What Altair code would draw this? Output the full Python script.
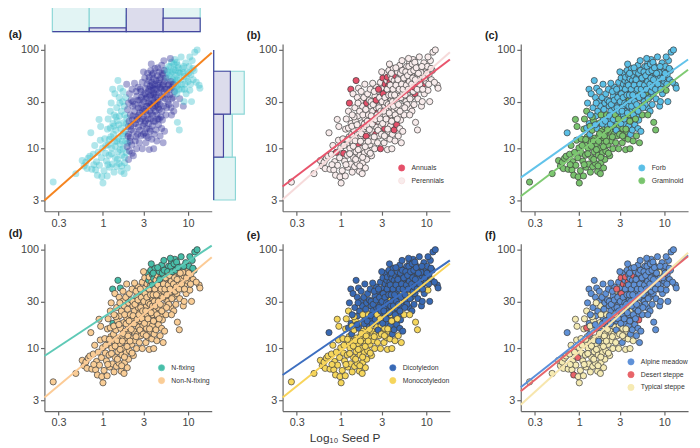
import altair as alt
import pandas as pd

# Seed P (x) and the trait on the y axis, one entry per species (same order in every list)
seed_p = [
    0.26, 0.48, 0.57, 0.60, 0.63, 0.65, 0.67, 0.70, 0.72, 0.74,
    0.77, 0.80, 0.82, 0.84, 0.86, 0.88, 0.90, 0.91, 0.93, 0.94,
    0.96, 0.97, 0.99, 1.00, 0.78, 1.03, 1.05, 1.07, 1.10, 1.12,
    1.13, 1.16, 1.18, 1.20, 1.22, 1.24, 1.27, 1.29, 1.31, 1.33,
    1.35, 1.37, 1.40, 1.42, 1.44, 1.47, 1.50, 1.52, 1.55, 1.57,
    1.60, 1.62, 1.64, 1.67, 1.70, 1.72, 1.75, 1.77, 1.80, 1.82,
    1.85, 1.88, 1.90, 1.93, 1.95, 1.98, 2.00, 1.15, 1.46, 1.66,
    1.50, 1.30, 1.25, 1.38, 1.45, 1.55, 1.60, 1.65, 1.70, 1.72,
    1.78, 1.80, 1.85, 1.90, 1.95, 2.00, 2.05, 2.10, 2.15, 2.20,
    1.42, 1.22, 1.58, 2.25, 1.35, 2.05, 2.10, 2.12, 2.18, 2.22,
    2.28, 2.30, 2.35, 2.40, 2.42, 2.48, 2.50, 2.55, 2.60, 2.62,
    2.68, 2.70, 2.75, 2.80, 2.85, 2.90, 2.95, 3.00, 3.05, 3.10,
    3.15, 3.20, 3.25, 3.30, 3.35, 3.40, 3.45, 3.50, 3.55, 3.60,
    3.65, 3.70, 3.75, 3.80, 3.85, 3.90, 3.95, 4.00, 4.10, 4.15,
    4.20, 4.30, 4.35, 4.40, 4.50, 4.60, 4.70, 4.80, 4.90, 5.00,
    5.10, 5.20, 5.30, 2.00, 2.25, 2.50, 2.60, 2.70, 2.80, 2.90,
    3.00, 3.10, 3.15, 3.20, 3.30, 3.35, 3.40, 3.45, 3.50, 3.55,
    3.60, 3.65, 3.70, 3.75, 3.80, 3.85, 3.90, 3.95, 4.00, 4.05,
    4.10, 4.15, 4.20, 4.30, 4.35, 4.40, 4.50, 4.55, 4.60, 4.70,
    4.75, 4.85, 4.90, 5.00, 5.10, 5.20, 5.30, 5.40, 5.50, 2.45,
    3.00, 2.35, 3.25, 4.45, 3.70, 5.50, 5.60, 5.70, 5.80, 5.90,
    6.00, 6.10, 6.20, 6.30, 6.40, 6.50, 6.60, 6.70, 6.80, 6.90,
    7.00, 7.10, 7.20, 7.30, 7.40, 7.50, 7.60, 7.90, 7.80, 8.00,
    8.20, 8.30, 8.50, 8.60, 8.80, 9.00, 9.20, 9.40, 9.50, 9.80,
    10.0, 10.3, 10.5, 10.8, 11.0, 11.2, 11.5, 12.0, 12.8, 13.5,
    13.8, 12.5, 6.20, 5.20, 8.70, 10.5, 9.00, 11.8, 6.80, 7.50,
    1.08, 1.14, 1.19, 1.26, 1.34, 1.39, 1.48, 1.54, 1.59, 1.69,
    1.73, 1.79, 1.87, 1.92, 1.97, 2.03, 2.08, 2.15, 2.20, 2.26,
    2.32, 2.38, 2.45, 2.52, 2.58, 2.65, 2.72, 2.78, 2.83, 2.88,
    2.93, 2.98, 3.03, 3.08, 3.13, 3.18, 3.23, 3.28, 3.38, 3.43,
    3.48, 3.53, 3.58, 3.63, 3.68, 3.78, 3.83, 3.88, 3.93, 4.02,
    4.08, 4.12, 4.25, 4.32, 4.42, 4.48, 4.58, 4.65, 4.72, 4.82,
    4.92, 4.98, 5.05, 5.15, 5.25, 5.35, 5.45, 5.65, 5.75, 5.85,
    5.95, 6.05, 6.15, 6.25, 6.35, 6.45, 6.55, 6.75, 6.85, 6.95,
    7.05, 7.15, 7.25, 7.35, 7.45, 7.65, 7.85, 8.10, 8.40, 8.90,
    9.10, 9.60, 10.2, 10.7, 11.4, 5.60, 6.40, 3.90, 4.40, 2.75,
]
trait = [
    4.6, 5.6, 7.6, 6.7, 7.3, 6.3, 8.0, 8.4, 14.5, 6.2,
    8.8, 10.8, 6.1, 7.4, 5.4, 9.2, 19.8, 6.8, 12.2, 16.8,
    8.1, 5.2, 10.2, 4.5, 6.9, 6.0, 12.6, 9.0, 7.5, 5.3,
    15.8, 11.0, 8.6, 6.5, 16.2, 13.2, 10.1, 7.0, 18.0, 14.0,
    5.8, 11.8, 8.1, 15.4, 6.6, 19.2, 9.3, 12.8, 7.1, 21.5,
    11.1, 16.0, 5.9, 8.6, 13.5, 10.0, 18.3, 5.6, 7.2, 15.0,
    12.0, 9.1, 20.5, 6.4, 11.4, 16.7, 7.8, 20.0, 12.0, 6.7,
    49, 40, 29, 36, 26, 33, 41, 24, 30, 38,
    27, 22, 33, 45, 25, 29, 36, 22, 31, 40,
    21, 24, 29, 27, 22, 9.5, 13, 17, 11, 19.5,
    8.5, 15, 24, 12, 18, 10, 21, 14, 26, 16.5,
    11.5, 23, 19, 13.5, 28, 10, 17, 21, 25, 14.5,
    19, 11.5, 16, 22, 27, 13, 18, 9.8, 24, 15,
    20, 29, 12.5, 17, 22, 26, 10, 14, 19, 24,
    15.5, 12, 28, 20, 17.5, 25, 13.5, 21, 16, 19.5,
    11.5, 27, 15, 14, 30, 34, 42, 31, 38, 47,
    35, 52, 41, 32, 45, 58, 38, 49, 53, 34,
    43, 62, 39, 47, 56, 31, 41, 51, 36, 45,
    65, 33, 49, 40, 55, 31, 46, 37, 60, 42,
    52, 34, 70, 44, 56, 38, 48, 32, 63, 38,
    60, 46, 27, 26, 72, 22, 40, 52, 30, 68,
    45, 35, 58, 26, 75, 42, 50, 33, 63, 38,
    80, 47, 28, 55, 36, 70, 44, 15.5, 59, 32,
    50, 85, 40, 65, 27, 54, 45, 74, 36, 60,
    48, 68, 39, 56, 30, 78, 50, 95, 100, 44,
    41, 47, 82, 78, 59, 85, 30, 62, 24, 18.5,
    10.8, 6.9, 12.4, 8.9, 16.9, 10.6, 7.8, 17.5, 9.8, 11.9,
    14.2, 8.2, 17.8, 10.5, 13.4, 19.0, 11.9, 15.6, 9.0, 21.5,
    17.8, 28, 13.2, 19.8, 31, 22, 15.4, 26, 33, 20,
    24, 14, 30, 18, 36, 24, 13.5, 33, 20, 29,
    40, 15.8, 28, 35, 23, 44, 27, 35, 19, 30,
    40, 27, 35, 22, 44, 30, 20, 50, 28, 40,
    24, 58, 33, 45, 62, 40, 52, 35, 60, 44,
    28, 55, 40, 68, 48, 32, 60, 45, 72, 52,
    38, 62, 42, 75, 50, 66, 40, 58, 45, 68,
    40, 52, 58, 45, 65, 26, 22, 58, 66, 40,
]

# one letter per species, in blocks of ten
life_code = ("PPPPPPPPPP PPPPPAPPPP PPPPPPPAPP PPPPPPPPPP PPPPPPPPPP APPPPPPPPP PPPPPPPPPP "
             "AAAPPPPPPP PPPPPAPPPP PPPPPPPPPP PPPPAPPAPP PAPPPAPPPP PPAPPPPPPP APPPPPPPPP "
             "APPPAPPPPP PPPPPPPPPP PAPPAPAPAP APPAPPAPPA PPPPAPPPPA PPPPPPPPPP PPPPPPPPPP "
             "PPPPPAPPPP PPPPAPPPPP PPPPPPAPPP PPPPPPPPPP PPPPPPPPPP "
             "PPPPPPPPPP PPPPAPPPPP PPPPAPPPPP PPPPAPPPPP PPPPPPPPPP PPPPPPPPPP "
             "PPPPPPPPPP PPPPPPPPPP PPAPPPPPPP PPPPPPPPPA")
form_code = ("GGGGGGGGFG GGGGGGGGGG GGGGGGGGGG GGGGFGGGFF GGGGGGGGGF GFGGGGGGGG GGFGGGGGGG "
             "FFFFFFFFFF FGFFFFFGFF GGFFFGGFGF GGFGFGFGFG GFFGFGGFFG FGGFFGFGFG FFGFGFGFFF "
             "FGFGFFGFFF GFFGFFFFFF FFFFFFFFFF FFFFFGFFFF FFFGFFFFFF FFFFFGFFFF FFFFFGFFFF "
             "FGFFFFFFFG FFFFFFFGFF FFGFFFFFFF FFGFFFFFFF FFFFFFFFFG "
             "GGGGGGGFGG GGFGGFGGGF FFGFFGFFFG FGFFFFGFFF FGFFFFFFGF FFFFFFGFFF "
             "FFFFFFFFFF FFFFFFFFFF FFFFFFFFFF FFFFFFGFFF")
nfix_code = ("nnnnnnnnnn nnnnnnnnnn nnnnnnnnnn nnnnnnnnNn nnnnnnnnnn nnnnnnnnnn nnnnnnnnnn "
             "NNnnnnNnnn nnnnnnnnnn nnnnnnnnnn nnnnnnnnnn nnnnnnnnnn nnnnnnnnnn nnnnnnnnnn "
             "nnnnnnnnnn nnnnnnnnnn nnnnnNnNnn nNnnNnnNnn NnnnnnNnNn nnNnNnnnNn nnnnNnnnnN "
             "nnNnNnnnNn NnnnnNnnnn nNnNnnnNnn nNnnnNnNNn nnNNnNnNnn "
             "nnnnnnnnnn nnnnnnnnnn nnnnnnnnnn nnnnnnnnnn nnnnnNnnnn nnnnnnnNnn "
             "nNnnNnnnNn nnnNnnNnNn nNnNnNnnnN nnnnNnnNNn")
coty_code = ("MMMMMMMMDM MMMMMMMMMM MMMMMMMMMM MMMMDMMMDD MMMMMMMMMD MDMMMMMMMM MMDMMMMMMM "
             "DDDDDDDDDD DMDDDDDMDD MMDDDMMDMD MMDMDMDMDM MDDMDMMDDM DMMDDMDMDM DDMDMDMDDD "
             "DMDMDDMDDD MDDMDDDDDD DDDDDDDDDD DDDDDMDDDD DDDMDDDDDD DDDDDMDDDD DDDDDMDDDD "
             "DMDDDDDDDM DDDDDDDMDD DDMDDDDDDD DDMDDDDDDD DDDDDDDDDM "
             "MMMMMMMDMM MMDMMDMMMD DDMDDMDDDM DMDDDDMDDD DMDDDDDDMD DDDDDDMDDD "
             "DDDDDDDDDD DDDDDDDDDD DDDDDDDDDD DDDDDDMDDD")
habitat_code = ("TTTTTTTTMT TTTTDTTTTT DTTTTTTTTT TTTTDTTTMM TTTTTTTTTM TMTTTTTTTM TTMTTTTTTT "
                "MMMMMMMMMM TTMMMMMTMM TTTMMTTMTD TTMTMTTTMT TMMTMTTMMT MMTMMTMTMT MMTMMMTMMT "
                "MTMMMMMMMD MMMTMMMMTM MDMMDMMMDM DMTDMMMMMD MMMTDMMMMM MMMMMMMMMM MMMMMMMMMM "
                "MMMMMMMMMM MMMMMMMMMM MMMMMMMMMM MMMMMMMMMM MMMMTMMMMM "
                "TTTTTTTMTM TTMTTMTTTM MMTMMTMMMM MTMMDMTMMM MTMMMMMMMM MMMMMMMMMM "
                "MMMMMMMMMM MMMMMMMMMM MMMMMMMMMM MMMMMMMMMD")
group_a_code = ("CCCCCCCCCC CCCCCCCCCC CCCCCCCCCC CCCCCCCCCC CCCCCCCCCC CCCCCCCCCC CCCCCBBCCC "
                "CCCCCCCCCC CCCBBBBBBB CCCBCBBBBB BBBBBBBBBB BBBBBBBBBB BBBBBBBBBB BBBBBBBBBB "
                "BBBBBBBBBB BBBBBBBBBB BBBBBBBBBB BBBBBBBBBB BBBBBBBBBB BBBBBBBBCB BBBBBBBCBC "
                "BBCBCBCBCB CCBCCCCCCB CCCCBCCCCC CCCCCCCCCC CCBBCCCCBC "
                "CCCCCCCCCC CCCBBBBBBB BBBBBBBBBB BBBBBBBBBB BBBBBBBBBB BBBBBBBBBB "
                "BBBBBBBBCB BCBCBBCBCC CCCCCCCCCC CCCCCBBBBB")

life_names = {"A": "Annuals", "P": "Perennials"}
form_names = {"F": "Forb", "G": "Graminoid"}
nfix_names = {"N": "N-fixing", "n": "Non-N-fixing"}
coty_names = {"D": "Dicotyledon", "M": "Monocotyledon"}
habitat_names = {"M": "Alpine meadow", "D": "Desert steppe", "T": "Typical steppe"}

# fitted lines, value at the left and right end of the x range
line_x = [0.205, 19]
a_line = [3.0, 93.5]
b_groups, b_lo, b_hi = ["Annuals", "Perennials"], [4.15, 3.06], [80, 95]
c_groups, c_lo, c_hi = ["Forb", "Graminoid"], [5.1, 3.3], [80, 63]
d_groups, d_lo, d_hi = ["N-fixing", "Non-N-fixing"], [8.4, 3.2], [110, 84]
e_groups, e_lo, e_hi = ["Dicotyledon", "Monocotyledon"], [5.4, 3.2], [78, 72.5]
f_groups = ["Alpine meadow", "Desert steppe", "Typical steppe"]
f_lo, f_hi = [4.05, 3.7, 2.7], [88, 86, 93]

# marginal histograms of panel (a)
top_edges = [0.254, 0.69, 1.88, 5.1, 13.9]
top_cyan = [1.0, 1.0, 0.6, 1.0]
top_dark = [0.0, 0.14, 1.0, 0.5]
right_edges = [3.03, 8.24, 22.4, 60.9, 100]
right_cyan = [0.69, 0.59, 0.97, 0.0]
right_dark = [0.0, 0.31, 0.53, 0.0]

x_ticks = [0.3, 1, 3, 10]
y_ticks = [3, 10, 30, 100]
X_DOM = [0.205, 19]
Y_DOM = [2.33, 115]
W, H = 170, 170


def codes(s):
    return list(s.replace(" ", ""))


df = pd.DataFrame({
    "seed_p": seed_p,
    "trait": trait,
    "grp_a": codes(group_a_code),
    "life": [life_names[c] for c in codes(life_code)],
    "form": [form_names[c] for c in codes(form_code)],
    "nfix": [nfix_names[c] for c in codes(nfix_code)],
    "coty": [coty_names[c] for c in codes(coty_code)],
    "habitat": [habitat_names[c] for c in codes(habitat_code)],
})

xs = alt.Scale(type="log", domain=X_DOM, nice=False)
ys = alt.Scale(type="log", domain=Y_DOM, nice=False)
AX = dict(grid=False, domainColor="#666", domainWidth=1.2, tickColor="#666", tickWidth=1.2,
          tickSize=4, labelFont="Liberation Sans", labelFontSize=11, labelColor="#444", labelPadding=2)


def x_axis(title=None):
    if title:
        return alt.Axis(values=x_ticks, format="~g", title=title, titleFont="Liberation Sans",
                        titleFontSize=12, titleFontWeight="normal", titleColor="#333",
                        titleX=63, titlePadding=5, **AX)
    return alt.Axis(values=x_ticks, format="~g", title=None, **AX)


def y_axis():
    return alt.Axis(values=y_ticks, format="~g", title=None, **AX)


def tag_title(t, offset=3):
    return alt.TitleParams(t, anchor="start", font="Liberation Sans", fontSize=11,
                           fontWeight="bold", color="#222", dx=-12, offset=offset)


def line_frame(groups, lo, hi):
    rows = []
    for g, a, b in zip(groups, lo, hi):
        rows.append({"grp": g, "x": line_x[0], "y": a})
        rows.append({"grp": g, "x": line_x[1], "y": b})
    return pd.DataFrame(rows)


def panel(tag, field, groups, fills, lo, hi, strokes, lx, ly, xtitle=None):
    pts = alt.Chart(df).mark_circle(size=40, stroke="#3a3a3a", strokeWidth=0.7, opacity=1).encode(
        x=alt.X("seed_p:Q", scale=xs, axis=x_axis(xtitle)),
        y=alt.Y("trait:Q", scale=ys, axis=y_axis()),
        fill=alt.Fill(f"{field}:N", scale=alt.Scale(domain=groups, range=fills),
                      legend=alt.Legend(orient="none", legendX=lx, legendY=ly, title=None,
                                        labelFont="Liberation Sans", labelFontSize=7,
                                        labelColor="#333", symbolType="circle", symbolSize=40,
                                        symbolStrokeColor="#3a3a3a", symbolStrokeWidth=0.7,
                                        rowPadding=3, labelOffset=6, padding=0)),
    )
    fit = alt.Chart(line_frame(groups, lo, hi)).mark_line(strokeWidth=2).encode(
        x=alt.X("x:Q", scale=xs, axis=x_axis(xtitle)),
        y=alt.Y("y:Q", scale=ys, axis=y_axis()),
        stroke=alt.Stroke("grp:N", scale=alt.Scale(domain=groups, range=strokes), legend=None),
    )
    return alt.layer(pts, fit).properties(width=W, height=H, title=tag_title(tag))


# panel (a) with its marginal histograms
a_pts = alt.Chart(df).mark_circle(size=50, opacity=0.4).encode(
    x=alt.X("seed_p:Q", scale=xs, axis=x_axis()),
    y=alt.Y("trait:Q", scale=ys, axis=y_axis()),
    fill=alt.Fill("grp_a:N", scale=alt.Scale(domain=["C", "B"], range=["#3cc0cc", "#2e2e96"]),
                  legend=None),
)
a_fit = alt.Chart(pd.DataFrame({"x": line_x, "y": a_line})).mark_line(
    color="#f5841f", strokeWidth=2).encode(
    x=alt.X("x:Q", scale=xs, axis=None), y=alt.Y("y:Q", scale=ys, axis=None))

top_df = pd.DataFrame({"lo": top_edges[:-1], "hi": top_edges[1:], "cyan": top_cyan, "dark": top_dark})
right_df = pd.DataFrame({"lo": right_edges[:-1], "hi": right_edges[1:],
                         "cyan": right_cyan, "dark": right_dark})
HIST_STYLE = {"cyan": ("#e2f4f4", "#8cd6d6"), "dark": ("#dcdcec", "#45459e")}


def top_hist(col):
    fill, stroke = HIST_STYLE[col]
    return alt.Chart(top_df).mark_rect(fill=fill, stroke=stroke, strokeWidth=1.2).encode(
        x=alt.X("lo:Q", scale=xs, axis=None), x2="hi:Q",
        y=alt.Y(f"{col}:Q", scale=alt.Scale(domain=[0, 1], range=[-12.5, -40], nice=False), axis=None),
        y2=alt.datum(0))


def right_hist(col):
    fill, stroke = HIST_STYLE[col]
    return alt.Chart(right_df).mark_rect(fill=fill, stroke=stroke, strokeWidth=1.2).encode(
        y=alt.Y("lo:Q", scale=ys, axis=None), y2="hi:Q",
        x=alt.X(f"{col}:Q", scale=alt.Scale(domain=[0, 1], range=[172, 204], nice=False), axis=None),
        x2=alt.datum(0))


pa = alt.layer(a_pts, a_fit, top_hist("cyan"), top_hist("dark"), right_hist("cyan"), right_hist("dark")
               ).resolve_scale(x="independent", y="independent").properties(
    width=W, height=H, title=tag_title("(a)", offset=-37))

pb = panel("(b)", "life", b_groups, ["#e4506a", "#f8ecec"], b_lo, b_hi, ["#e9546c", "#f6dada"], 117, 122)
pc = panel("(c)", "form", c_groups, ["#5bbfe6", "#79c36e"], c_lo, c_hi, ["#62c3ea", "#7fca72"], 119, 122)
pd_ = panel("(d)", "nfix", d_groups, ["#48bea9", "#f9cd96"], d_lo, d_hi, ["#5ec9b6", "#fccb96"], 115, 122)
pe = panel("(e)", "coty", e_groups, ["#3869b4", "#f5d65c"], e_lo, e_hi, ["#3d6fc0", "#f8d45a"], 108, 122,
           xtitle="Log₁₀ Seed P")
pf = panel("(f)", "habitat", f_groups, ["#5f91d7", "#e86469", "#f5ebb4"], f_lo, f_hi,
           ["#5a8fda", "#e7656b", "#f7e6ad"], 108, 116)

chart = alt.concat(pa, pb, pc, pd_, pe, pf, columns=3, spacing={"row": 33, "column": 72},
                   bounds="flush").resolve_scale(
    x="independent", y="independent", fill="independent", stroke="independent"
).properties(padding={"left": 0, "top": -8, "right": 0, "bottom": 0}).configure_view(stroke=None)

chart.save("out.html", embed_options={"renderer": "svg", "actions": False})
